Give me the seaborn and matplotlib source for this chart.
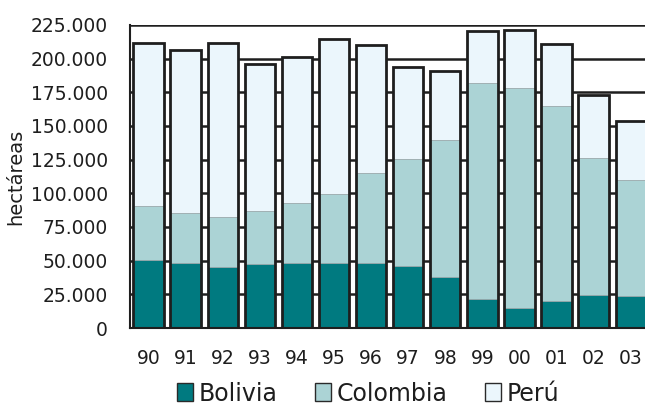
import matplotlib
matplotlib.use("Agg")
import matplotlib.pyplot as plt
from matplotlib.patches import Patch
from matplotlib.ticker import FuncFormatter, FixedLocator
import numpy as np
import pandas as pd
import seaborn as sns

# Coca cultivation area by country (hectares)
years = ["90", "91", "92", "93", "94", "95", "96", "97", "98", "99", "00", "01", "02", "03"]
bolivia = [50300, 47900, 45500, 47200, 48100, 48600, 48100, 45800, 38000, 21800, 14600, 19900, 24400, 23600]
colombia = [40100, 37500, 37100, 39700, 44700, 50900, 67200, 79400, 101800, 160100, 163300, 144800, 102000, 86000]
peru = [121300, 120800, 129100, 108800, 108600, 115300, 94400, 68800, 51000, 38700, 43400, 46200, 46700, 44200]
countries = ["Bolivia", "Colombia", "Perú"]
colors = ["#007a80", "#abd3d5", "#ebf6fc"]

df = pd.DataFrame({"year": years, "Bolivia": bolivia, "Colombia": colombia, "Perú": peru})
df["c_bol"] = df["Bolivia"]
df["c_col"] = df["Bolivia"] + df["Colombia"]
df["c_per"] = df["c_col"] + df["Perú"]

sns.set_theme(style="white")
plt.rcParams["font.family"] = ["DejaVu Sans"]

ink = "#1e1e1e"
fig = plt.figure(figsize=(6.45, 4.07), dpi=100)
ax = fig.add_axes([0.2016, 0.194, 0.805, 0.745])

width = 0.82
# stacked layers drawn from the tallest cumulative total down
for col, color in zip(["c_per", "c_col", "c_bol"], colors[::-1]):
    sns.barplot(data=df, x="year", y=col, color=color, width=width,
                edgecolor="#9aa8aa", linewidth=0.6, saturation=1, ax=ax, zorder=2)
# black outline around each whole stack
sns.barplot(data=df, x="year", y="c_per", fill=False, width=width,
            edgecolor=ink, linewidth=2.0, ax=ax, zorder=3)

ax.set_xlim(-0.5, len(years) - 0.5)
ax.set_ylim(0, 225000)
ax.set_yticks(np.arange(0, 225001, 25000))
ax.yaxis.set_major_formatter(FuncFormatter(lambda v, p: f"{int(v):,}".replace(",", ".")))
ax.yaxis.grid(True, color=ink, linewidth=1.8, zorder=0)
ax.xaxis.grid(False)
ax.set_axisbelow(True)

ax.xaxis.set_minor_locator(FixedLocator(np.arange(-0.5, len(years), 1.0)))
ax.tick_params(axis="x", which="major", length=0, pad=15, labelsize=13.5, colors=ink)
ax.tick_params(axis="x", which="minor", length=6, width=1.3, color=ink, direction="out")
ax.tick_params(axis="y", length=0, pad=16, labelsize=13.5, colors=ink)

ax.set_xlabel("")
ax.set_ylabel("hectáreas", fontsize=14, color=ink, labelpad=4)

for s in ["top", "right"]:
    ax.spines[s].set_visible(False)
for s in ["left", "bottom"]:
    ax.spines[s].set_color(ink)
    ax.spines[s].set_linewidth(1.5)

handles = [Patch(facecolor=c, edgecolor="#2a2a2a", linewidth=1.0, label=n) for c, n in zip(colors, countries)]
fig.legend(handles=handles, loc="center", bbox_to_anchor=(0.571, 0.033), ncol=3, frameon=False,
           fontsize=17, handlelength=0.65, handleheight=0.8, handletextpad=0.25,
           columnspacing=1.6, borderpad=0.1, labelcolor=ink)

fig.savefig("out.png", dpi=100)
